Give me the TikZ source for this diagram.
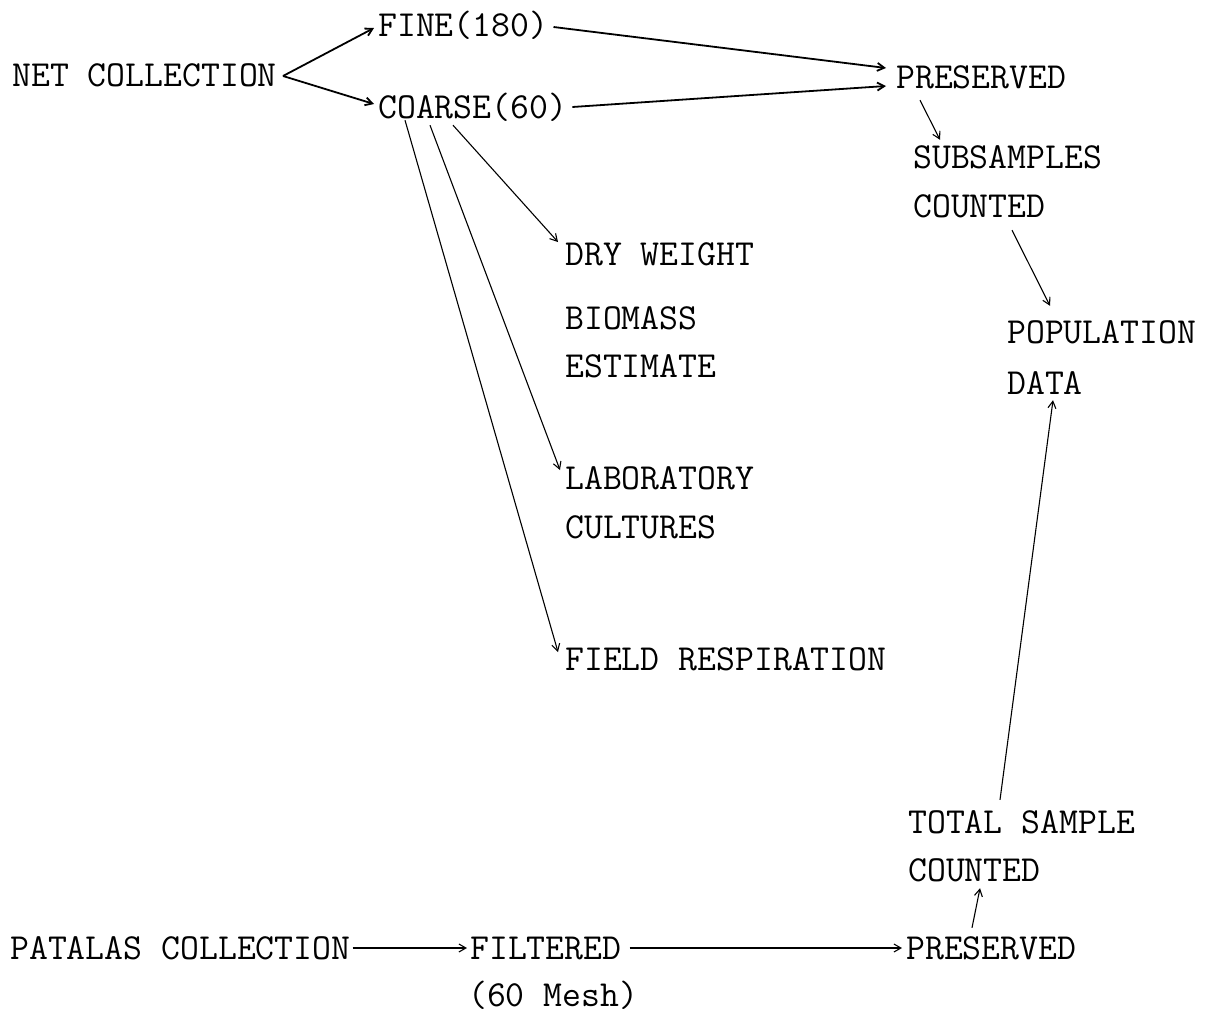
\documentclass[tikz,border=0pt]{standalone}
\usepackage{fontspec}
\usetikzlibrary{arrows.meta,calc}
\begin{document}
\begin{tikzpicture}[x=1pt,y=-1pt,
  lbl/.style={inner sep=0pt, anchor=base west, text height=22pt, text depth=0pt,
    font=\ttfamily\fontsize{36.7}{44}\selectfont},
  arr/.style={-{Straight Barb[length=7pt,width=8pt]}, line width=1.1pt},
  heavy/.style={arr, line width=1.8pt}]
\useasboundingbox (0,0) rectangle (1205,1015);
% nodes
\node[lbl] (net)   at (12,86)   {NET COLLECTION};
\node[lbl] (fine)  at (378,36)  {FINE(180)};
\node[lbl] (coarse) at (378,118) {COARSE(60)};
\node[lbl] (pres1) at (896,88)  {PRESERVED};
\node[lbl] (sub1)  at (913,168) {SUBSAMPLES};
\node[lbl] (sub2)  at (913,217) {COUNTED};
\node[lbl] (dry)   at (565,265) {DRY WEIGHT};
\node[lbl] (bio1)  at (565,329) {BIOMASS};
\node[lbl] (bio2)  at (565,377) {ESTIMATE};
\node[lbl] (lab1)  at (565,489) {LABORATORY};
\node[lbl] (lab2)  at (565,538) {CULTURES};
\node[lbl] (field) at (565,670) {FIELD RESPIRATION};
\node[lbl] (pop1)  at (1007,343) {POPULATION};
\node[lbl] (pop2)  at (1007,394) {DATA};
\node[lbl] (tot1)  at (908,833) {TOTAL SAMPLE};
\node[lbl] (tot2)  at (908,881) {COUNTED};
\node[lbl] (pat)   at (10,959)  {PATALAS COLLECTION};
\node[lbl] (filt)  at (470,959) {FILTERED};
\node[lbl] (mesh)  at (468,1006) {(60 Mesh)};
\node[lbl] (pres2) at (906,959) {PRESERVED};
% connectors
\draw[heavy] ($(net.east)+(6,1)$) -- ($(fine.west)+(-4,3)$);
\draw[heavy] ($(net.east)+(6,1)$) -- ($(coarse.west)+(-4,-3)$);
\draw[heavy] ($(fine.east)+(5,2)$) -- ($(pres1.west)+(-10,-9)$);
\draw[heavy] ($(coarse.east)+(5,0)$) -- ($(pres1.west)+(-10,9)$);
\draw[arr] ($(coarse.south west)+(75,7)$) -- ($(dry.west)+(-7,-12)$);
\draw[arr] ($(coarse.south west)+(52,7)$) -- ($(lab1.west)+(-5,-8)$);
\draw[arr] ($(coarse.south west)+(27,2)$) -- ($(field.west)+(-7,-7)$);
\draw[arr] ($(pres1.south west)+(24,12)$) -- ($(sub1.north west)+(27,-6)$);
\draw[arr] ($(sub2.south west)+(99,13)$) -- ($(pop1.north west)+(43,-15)$);
\draw[arr] ($(tot1.north west)+(92,-11)$) -- ($(pop2.south west)+(46,6)$);
\draw[arr] ($(pres2.north west)+(66,-9)$) -- ($(tot2.south west)+(72,7)$);
\draw[arr] ($(pat.east)+(2,0)$) -- ($(filt.west)+(-3,0)$);
\draw[arr] ($(filt.east)+(8,0)$) -- ($(pres2.west)+(-4,0)$);
\end{tikzpicture}
\end{document}
